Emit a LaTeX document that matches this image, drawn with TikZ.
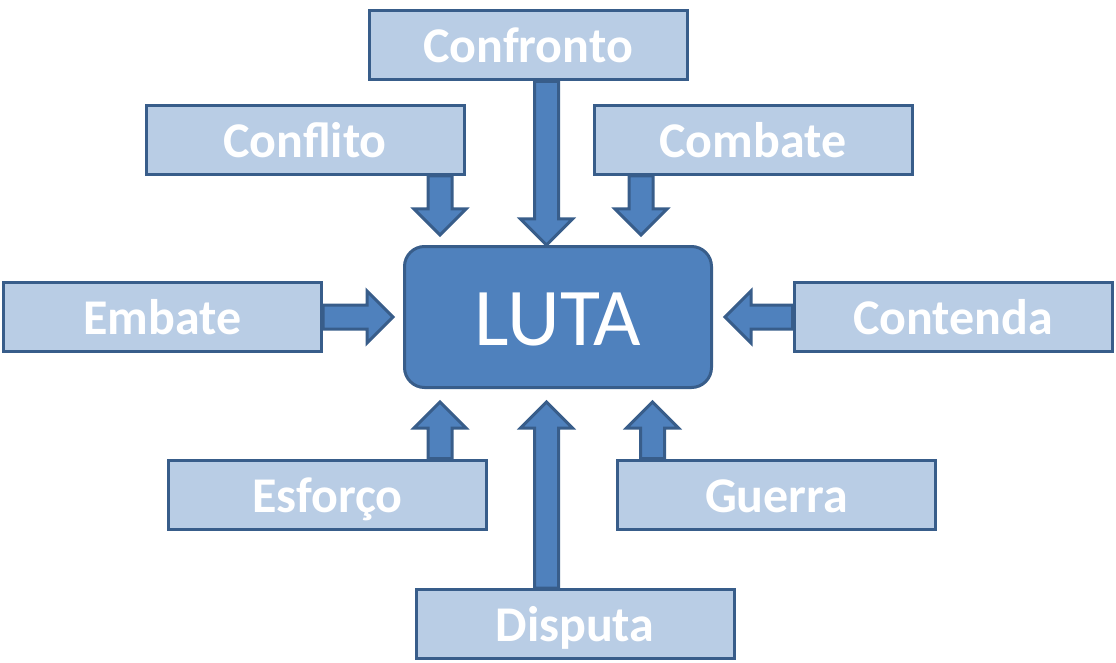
\documentclass[tikz,border=0pt]{standalone}
\usepackage{fontspec}
\setmainfont{Carlito}
\usetikzlibrary{calc,backgrounds}

\definecolor{lightfill}{HTML}{B9CDE5}
\definecolor{edgeblue}{HTML}{385D8A}
\definecolor{midblue}{HTML}{4F81BD}

\tikzset{
  wordbox/.style={draw=edgeblue, fill=lightfill, line width=3pt,
    minimum width=318pt, minimum height=69pt, inner sep=0pt,
    text=white, text height=35pt, text depth=0pt,
    font=\fontsize{50}{50}\selectfont\bfseries},
  lutabox/.style={draw=edgeblue, fill=midblue, line width=3pt,
    rounded corners=20pt, minimum width=307pt, minimum height=141pt,
    inner sep=0pt, text=white, text height=57pt, text depth=0pt,
    font=\fontsize{82}{82}\selectfont},
  barrow/.style={draw=edgeblue, fill=midblue, line width=3pt, line join=miter}
}

% block arrow from tail #1 to tip #2
\newcommand{\blockarrow}[2]{%
  \path[barrow] let \p1=#1, \p2=#2,
    \n1={veclen(\x2-\x1,\y2-\y1)},
    \n2={(\x2-\x1)/\n1}, \n3={(\y2-\y1)/\n1} in
    ({\x1-12pt*(\n3)},{\y1+12pt*(\n2)}) --
    ({\x2-26pt*(\n2)-12pt*(\n3)},{\y2-26pt*(\n3)+12pt*(\n2)}) --
    ({\x2-26pt*(\n2)-26pt*(\n3)},{\y2-26pt*(\n3)+26pt*(\n2)}) --
    (\p2) --
    ({\x2-26pt*(\n2)+26pt*(\n3)},{\y2-26pt*(\n3)-26pt*(\n2)}) --
    ({\x2-26pt*(\n2)+12pt*(\n3)},{\y2-26pt*(\n3)-12pt*(\n2)}) --
    ({\x1+12pt*(\n3)},{\y1-12pt*(\n2)}) -- cycle;%
}

\begin{document}
\begin{tikzpicture}[x=1pt, y=-1pt]
\useasboundingbox (0,0) rectangle (1116,663);

\node[lutabox] (luta) at (558, 317) {LUTA};

\node[wordbox] (confronto) at (528, 45.5) {Confronto};
\node[wordbox] (conflito) at (305, 140) {Conflito};
\node[wordbox] (combate) at (753, 140) {Combate};
\node[wordbox] (embate) at (162.5, 317) {Embate};
\node[wordbox] (contenda) at (953, 317) {Contenda};
\node[wordbox] (esforco) at (327.5, 494.5) {Esforço};
\node[wordbox] (guerra) at (776.5, 494.5) {Guerra};
\node[wordbox] (disputa) at (575, 624) {Disputa};

\begin{scope}[on background layer]
\blockarrow{([xshift=18.5pt]confronto.south)}{($(luta.north)+(-11.5,0)$)}
\blockarrow{([xshift=135pt]conflito.south)}{($(luta.north)+(-118,-10)$)}
\blockarrow{([xshift=-112pt]combate.south)}{($(luta.north)+(83,-10)$)}
\blockarrow{(embate.east)}{($(luta.west)+(-10,0)$)}
\blockarrow{(contenda.west)}{($(luta.east)+(12,0)$)}
\blockarrow{([xshift=112.5pt]esforco.north)}{($(luta.south)+(-118,13)$)}
\blockarrow{([xshift=-124pt]guerra.north)}{($(luta.south)+(94.5,13)$)}
\blockarrow{([xshift=-28.5pt]disputa.north)}{($(luta.south)+(-11.5,13)$)}
\end{scope}
\end{tikzpicture}
\end{document}
